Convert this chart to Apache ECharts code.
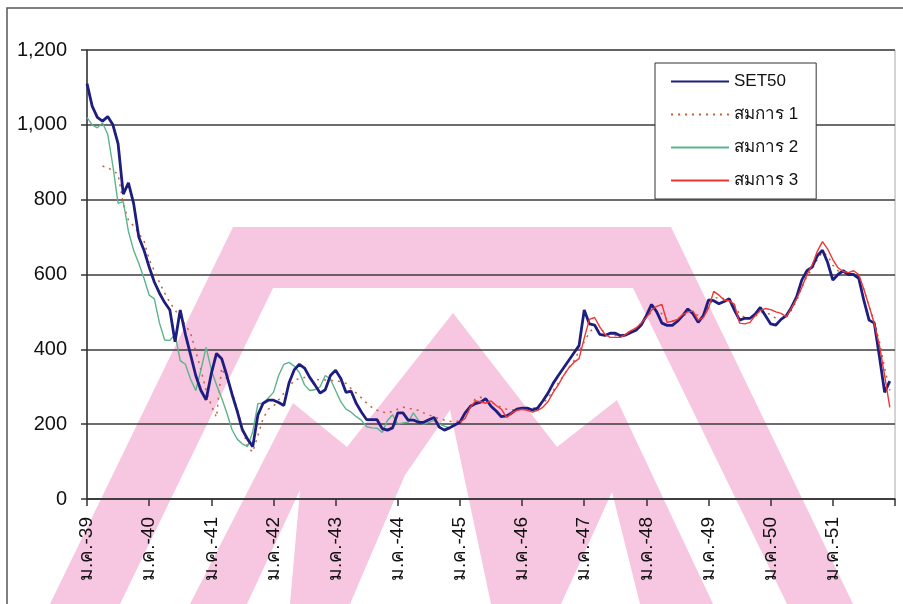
<!DOCTYPE html>
<html>
<head>
<meta charset="utf-8">
<script src="https://cdn.jsdelivr.net/npm/echarts@6/dist/echarts.min.js"></script>
<style>
  html, body { margin: 0; padding: 0; background: #fff; }
  #main { width: 903px; height: 604px; }
</style>
</head>
<body>
<div id="main"></div>
<script>
// month names (Thai abbreviations), years in B.E. short form
const monthNames = ['ม.ค.', 'ก.พ.', 'มี.ค.', 'เม.ย.', 'พ.ค.', 'มิ.ย.', 'ก.ค.', 'ส.ค.', 'ก.ย.', 'ต.ค.', 'พ.ย.', 'ธ.ค.'];
const firstYear = 39;
const lastYear = 51;

// y axis ticks
const yTicks = [0, 200, 400, 600, 800, 1000, 1200];

// SET50 monthly index, ม.ค.-39 .. ธ.ค.-51
const set50 = [
  1110, 1050, 1020, 1010, 1022, 1000, 950, 815, 845, 790, 700, 665,
  620, 580, 550, 525, 505, 420, 505, 440, 385, 330, 290, 265,
  335, 389, 375, 330, 280, 235, 185, 160, 140, 225, 256, 264,
  264, 258, 250, 310, 345, 360, 350, 325, 305, 283, 292, 330,
  344, 322, 285, 288, 255, 232, 212, 212, 212, 188, 184, 190,
  230, 230, 211, 211, 205, 205, 212, 218, 192, 184, 190, 198,
  205, 230, 247, 255, 259, 268, 248, 235, 220, 222, 230, 240,
  243, 243, 238, 243, 262, 283, 309, 330, 350, 370, 390, 410,
  505, 468, 465, 440, 437, 443, 443, 436, 438, 445, 451, 465,
  490, 520, 500, 470, 464, 464, 475, 490, 508, 495, 472, 490,
  532, 530, 522, 528, 535, 505, 478, 483, 483, 494, 512, 490,
  468, 465, 480, 490, 512, 540, 585, 610, 620, 650, 665, 632,
  585, 600, 610, 600, 600, 590, 530, 478, 470, 380, 285, 315
];

// สมการ 1 (starts at month index 3)
const eq1Start = 3;
const eq1 = [
  890, 885, 878, 868, 790, 745, 730, 710, 690,
  640, 610, 578, 550, 525, 505, 485, 465, 443, 395, 345, 290,
  250, 218, 350, 320, 285, 240, 190, 140, 125, 170, 215, 240,
  248, 265, 283, 300, 317, 322, 325, 322, 320, 318, 318, 317,
  317, 313, 309, 295, 283, 270, 256, 245, 237, 233, 229, 235,
  240, 245, 243, 240, 237, 230, 225, 219, 215, 211, 208, 206,
  210, 225, 250, 268, 272, 265, 258, 252, 245, 240, 238, 238,
  240, 242, 242, 245, 255, 270, 290, 310, 330, 350, 370, 395,
  420, 445, 460, 455, 445, 438, 437, 438, 442, 450, 458, 470,
  485, 500, 505, 495, 480, 475, 478, 488, 498, 500, 490, 495,
  515, 535, 540, 535, 530, 515, 495, 485, 482, 488, 498, 500,
  492, 483, 480, 485, 505, 530, 565, 595, 615, 640, 660, 650,
  625, 610, 605, 603, 602, 595, 560, 515, 475, 420, 350, 290
];

// สมการ 2 (month index 0 .. 71)
const eq2Start = 0;
const eq2 = [
  1020, 1000, 992, 1005, 975, 890, 790, 795, 715, 665, 630, 590,
  545, 535, 470, 425, 424, 440, 370, 360, 320, 290, 345, 405,
  345, 305, 270, 230, 185, 160, 147, 140, 180, 255, 256, 270,
  285, 330, 360, 365, 355, 338, 305, 290, 292, 300, 330, 320,
  290, 260, 240, 232, 220, 210, 193, 190, 189, 178, 210, 225,
  200, 203, 205, 230, 210, 200, 205, 210, 200, 195, 190, 200
];

// สมการ 3 (starts at month index 72)
const eq3Start = 72;
const eq3 = [
  205, 215, 245, 262, 260, 256, 262, 250, 240, 218, 230, 237,
  240, 237, 232, 237, 245, 260, 285, 305, 330, 350, 365, 375,
  430, 480, 485, 460, 440, 432, 432, 432, 440, 450, 457, 470,
  485, 505, 515, 520, 472, 475, 480, 493, 500, 502, 478, 485,
  510, 555, 545, 532, 530, 520, 470, 468, 472, 490, 504, 509,
  506, 500, 496, 487, 510, 535, 565, 600, 625, 662, 688, 668,
  640, 618, 608, 605, 610, 600, 560, 515, 469, 410, 330, 245
];

const categories = [];
for (let y = firstYear; y <= lastYear; y++) {
  monthNames.forEach(m => categories.push(m + '-' + y));
}
categories.push(monthNames[0] + '-' + (lastYear + 1));

const withOffset = (arr, start) => arr.map((v, i) => [start + i, v]);

const font = 'Liberation Sans, Arial, Tahoma, sans-serif';
const pink = '#f7c6e0';

let myChart = echarts.init(document.getElementById('main'));
let option = {
  animation: false,
  backgroundColor: '#fff',
  // pink logo watermark behind the plot
  graphic: [
    { type: 'polygon', z: -10, silent: true,
      shape: { points: [[50, 604], [233, 227], [671, 227], [853, 604], [787, 604], [633, 288], [273, 288], [120, 604]] },
      style: { fill: pink } },
    { type: 'polygon', z: -10, silent: true,
      shape: { points: [[190, 604], [293, 403], [347, 447], [453, 313], [557, 447], [617, 400], [713, 604],
                        [640, 604], [612, 492], [561, 604], [491, 604], [450, 410], [405, 475], [350, 604],
                        [290, 604], [300, 490], [247, 604]] },
      style: { fill: pink } },
    { type: 'rect', z: -5, silent: true,
      shape: { x: 7, y: 8, width: 920, height: 620 },
      style: { fill: null, stroke: '#555', lineWidth: 1.5 } }
  ],
  grid: {
    left: 87,
    right: 8,
    top: 50,
    bottom: 105,
    show: true,
    borderColor: '#a8a8a8',
    borderWidth: 1
  },
  legend: {
    orient: 'vertical',
    left: 655,
    top: 63,
    padding: [10, 18, 10, 15],
    itemGap: 16,
    itemWidth: 58,
    itemHeight: 14,
    backgroundColor: '#fff',
    borderColor: '#333',
    borderWidth: 1,
    itemStyle: { opacity: 0 },
    textStyle: { fontFamily: font, fontSize: 17, color: '#111', lineHeight: 17 },
    data: ['SET50', 'สมการ 1', 'สมการ 2', 'สมการ 3']
  },
  xAxis: {
    type: 'category',
    data: categories,
    boundaryGap: false,
    axisLine: { lineStyle: { color: '#333', width: 1.5 } },
    axisTick: { interval: 11, length: 7, lineStyle: { color: '#333', width: 1.5 } },
    axisLabel: {
      interval: 11,
      rotate: 90,
      margin: 18,
      fontFamily: font,
      fontSize: 19,
      color: '#111',
      formatter: (v, i) => (i === categories.length - 1 ? '' : v)
    },
    splitLine: { show: false }
  },
  yAxis: {
    type: 'value',
    min: yTicks[0],
    max: yTicks[yTicks.length - 1],
    interval: yTicks[1] - yTicks[0],
    axisLine: { show: true, lineStyle: { color: '#333', width: 1.5 } },
    axisTick: { show: true, length: 6, lineStyle: { color: '#333', width: 1.5 } },
    axisLabel: {
      margin: 20,
      fontFamily: font,
      fontSize: 20,
      color: '#111',
      formatter: v => v.toLocaleString('en-US')
    },
    splitLine: { lineStyle: { color: '#3c3c3c', width: 1.6 } }
  },
  series: [
    {
      name: 'SET50', type: 'line', data: set50,
      symbol: 'none', z: 3,
      lineStyle: { color: '#1e1e80', width: 2.8 },
      itemStyle: { color: '#1e1e80' }
    },
    {
      name: 'สมการ 1', type: 'line', data: withOffset(eq1, eq1Start),
      symbol: 'none', z: 2,
      lineStyle: { color: '#c4603a', width: 1.5, type: [2, 5] },
      itemStyle: { color: '#c4603a' }
    },
    {
      name: 'สมการ 2', type: 'line', data: withOffset(eq2, eq2Start),
      symbol: 'none', z: 2,
      lineStyle: { color: '#5cb38d', width: 1.4 },
      itemStyle: { color: '#5cb38d' }
    },
    {
      name: 'สมการ 3', type: 'line', data: withOffset(eq3, eq3Start),
      symbol: 'none', z: 4,
      lineStyle: { color: '#ee3535', width: 1.4 },
      itemStyle: { color: '#ee3535' }
    }
  ]
};
myChart.setOption(option);
</script>
</body>
</html>
